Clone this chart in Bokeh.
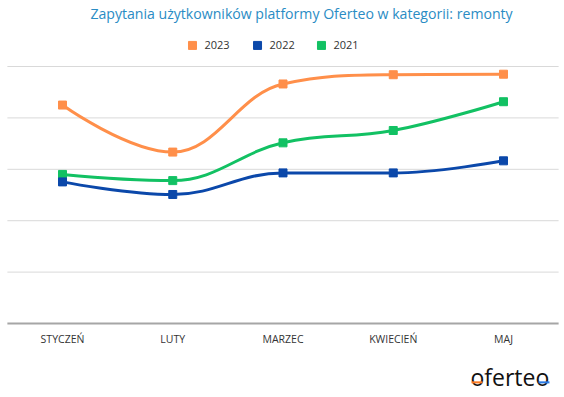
from bokeh.plotting import figure
from bokeh.models import Range1d, Label, BoxAnnotation
from bokeh.core.properties import value
from bokeh.embed import file_html
from bokeh.resources import INLINE

# ---- data ----
months = ["STYCZEŃ", "LUTY", "MARZEC", "KWIECIEŃ", "MAJ"]
series_names = ["2023", "2022", "2021"]
v2023 = [85.0, 66.7, 93.2, 96.8, 97.0]
v2022 = [55.1, 50.2, 58.6, 58.6, 63.3]
v2021 = [58.0, 55.6, 70.3, 75.1, 86.3]
grid_values = [20, 40, 60, 80, 100]

colors = {"2023": "#FF8F4A", "2022": "#0B48AA", "2021": "#12C163"}
values = {"2023": v2023, "2022": v2022, "2021": v2021}

FONT = "Open Sans"


def spline_segments(xs, ys, smoothing=1.5):
    """Highcharts-like spline: bezier segments through the data points."""
    n = len(xs)
    left = [None] * n
    right = [None] * n
    denom = smoothing + 1
    for i in range(1, n - 1):
        px, py = xs[i], ys[i]
        lx, ly = xs[i - 1], ys[i - 1]
        nx, ny = xs[i + 1], ys[i + 1]
        lcx = (smoothing * px + lx) / denom
        lcy = (smoothing * py + ly) / denom
        rcx = (smoothing * px + nx) / denom
        rcy = (smoothing * py + ny) / denom
        corr = ((rcy - lcy) * (rcx - px)) / (rcx - lcx) + py - rcy
        lcy += corr
        rcy += corr
        if lcy > ly and lcy > py:
            lcy = max(ly, py)
            rcy = 2 * py - lcy
        elif lcy < ly and lcy < py:
            lcy = min(ly, py)
            rcy = 2 * py - lcy
        if rcy > ny and rcy > py:
            rcy = max(ny, py)
            lcy = 2 * py - rcy
        elif rcy < ny and rcy < py:
            rcy = min(ny, py)
            lcy = 2 * py - rcy
        left[i] = (lcx, lcy)
        right[i] = (rcx, rcy)
    segs = {k: [] for k in ["x0", "y0", "x1", "y1", "cx0", "cy0", "cx1", "cy1"]}
    for i in range(n - 1):
        c0 = right[i] if right[i] is not None else (xs[i], ys[i])
        c1 = left[i + 1] if left[i + 1] is not None else (xs[i + 1], ys[i + 1])
        segs["x0"].append(xs[i]); segs["y0"].append(ys[i])
        segs["x1"].append(xs[i + 1]); segs["y1"].append(ys[i + 1])
        segs["cx0"].append(c0[0]); segs["cy0"].append(c0[1])
        segs["cx1"].append(c1[0]); segs["cy1"].append(c1[1])
    return segs


p = figure(width=564, height=397, output_backend="svg", toolbar_location=None,
           x_range=Range1d(-0.5624, 4.5533), y_range=Range1d(-28.79, 125.68),
           x_axis_location=None, y_axis_location=None,
           min_border_left=0, min_border_right=0,
           min_border_top=0, min_border_bottom=0)
p.outline_line_color = None
p.grid.visible = False

xs = list(range(len(months)))
x_lo = xs[0] - 0.5
x_hi = xs[-1] + 0.5

# gridlines and baseline
p.segment(x0=[x_lo] * len(grid_values), x1=[x_hi] * len(grid_values),
          y0=grid_values, y1=grid_values, line_color="#D9D9D9", line_width=1)
p.segment(x0=[x_lo], x1=[x_hi], y0=[0], y1=[0], line_color="#A6A6A6", line_width=2)

# category labels
p.text(x=xs, y=[-5.84] * len(xs), text=months, text_font=value(FONT),
       text_font_size="10.5px", text_color="#333333",
       text_align="center", text_baseline="middle")

for name in ["2021", "2022", "2023"]:
    segs = spline_segments(xs, values[name])
    p.bezier(x0=segs["x0"], y0=segs["y0"], x1=segs["x1"], y1=segs["y1"],
             cx0=segs["cx0"], cy0=segs["cy0"], cx1=segs["cx1"], cy1=segs["cy1"],
             line_color=colors[name], line_width=3)
    p.scatter(xs, values[name], marker="square", size=8,
              fill_color=colors[name], line_color=colors[name])

# title
p.add_layout(Label(x=2.168, y=120.5, text="Zapytania użytkowników platformy Oferteo w kategorii: remonty",
                   text_font=FONT, text_font_size="14.1px", text_color="#2A8CC4",
                   text_align="center", text_baseline="middle"))

# legend
leg_x = [1.179, 1.769, 2.349]
for lx, name in zip(leg_x, series_names):
    p.scatter([lx], [108.2], marker="square", size=8,
              fill_color=colors[name], line_color=colors[name])
    p.add_layout(Label(x=lx + 0.109, y=108.2, text=name, text_font=FONT,
                       text_font_size="11px", text_color="#333333",
                       text_baseline="middle", text_align="left"))

# logo
p.add_layout(Label(x=3.70, y=-21.0, text="oferteo", text_font=FONT,
                   text_font_size="23px", text_color="#111111",
                   text_baseline="alphabetic", text_align="left"))
p.add_layout(BoxAnnotation(left=3.71, right=3.81, bottom=-23.3, top=-22.5,
                           fill_color="#FF7A21", fill_alpha=1, line_color=None))
p.add_layout(BoxAnnotation(left=4.317, right=4.417, bottom=-23.3, top=-22.5,
                           fill_color="#2C7BE5", fill_alpha=1, line_color=None))

open("out.html", "w").write(file_html(p, INLINE))
